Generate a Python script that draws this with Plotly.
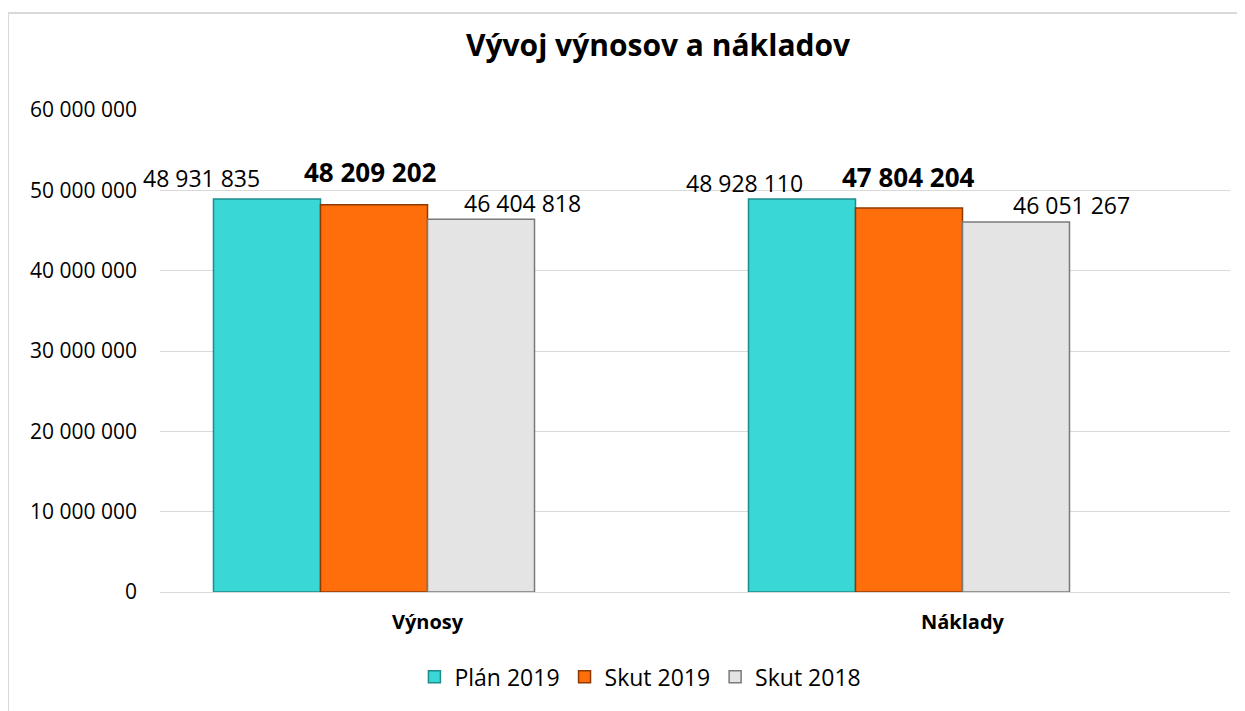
import plotly.graph_objects as go

categories = ["Výnosy", "Náklady"]
series_names = ["Plán 2019", "Skut 2019", "Skut 2018"]
plan_2019 = [48931835, 48928110]
skut_2019 = [48209202, 47804204]
skut_2018 = [46404818, 46051267]
y_ticks = [0, 10000000, 20000000, 30000000, 40000000, 50000000, 60000000]

series_values = [plan_2019, skut_2019, skut_2018]
colors = ["#39D8D6", "#FF6E0A", "#E4E4E4"]
edge_colors = ["#1E8C8A", "#8C3A00", "#7A7A7A"]
FONT = "Open Sans"

fig = go.Figure()
for name, vals, c, ec in zip(series_names, series_values, colors, edge_colors):
    fig.add_trace(go.Bar(
        x=categories, y=vals, name=name,
        marker=dict(color=c, line=dict(color=ec, width=1.5)),
        hoverinfo="x+y+name",
    ))
# empty placeholder slot (the original chart leaves a 4th slot empty)
fig.add_trace(go.Bar(x=categories, y=[None, None], showlegend=False, hoverinfo="skip"))

# data label styling (offsets in px from category centre / bar top)
label_xshift = [[-226, -57, 95], [-218, -54, 109]]
label_yshift = [[21, 33, 16], [16, 31, 17]]
for ci, cat in enumerate(categories):
    for si, vals in enumerate(series_values):
        bold = si == 1
        txt = f"{vals[ci]:,}".replace(",", " ")
        fig.add_annotation(
            x=cat, y=vals[ci], xref="x", yref="y",
            text=f"<b>{txt}</b>" if bold else txt,
            showarrow=False, xanchor="center", yanchor="middle",
            xshift=label_xshift[ci][si], yshift=label_yshift[ci][si],
            font=dict(family=FONT, size=26 if bold else 23, color="#000000"),
        )

fig.add_shape(type="rect", xref="paper", yref="paper",
              x0=-0.142, x1=1.012, y0=-0.25, y1=1.201,
              line=dict(color="#D9D9D9", width=2), layer="below")

fig.update_layout(
    width=1237, height=703,
    margin=dict(l=152, r=15, t=102, b=119, autoexpand=False),
    paper_bgcolor="white", plot_bgcolor="white",
    separators=", ",
    barmode="group", bargap=0.2, bargroupgap=0,
    title=dict(text="<b>Vývoj výnosov a nákladov</b>", x=0.5255, xref="container",
               xanchor="center", y=0.947, yref="container", yanchor="middle",
               font=dict(family=FONT, size=30, color="#000000")),
    font=dict(family=FONT, color="#000000"),
    legend=dict(orientation="h", x=0.449, xanchor="center", y=-0.176, yanchor="middle",
                font=dict(family=FONT, size=23), itemwidth=30, traceorder="normal"),
    showlegend=True,
)
fig.update_yaxes(range=[0, 60000000], tickvals=y_ticks, tickformat=",d", automargin=False,
                 showgrid=True, gridcolor="#D9D9D9", gridwidth=1,
                 zeroline=True, zerolinecolor="#D9D9D9", zerolinewidth=1,
                 showline=False, ticks="", ticklabelstandoff=22,
                 tickfont=dict(family=FONT, size=21, color="#000000"))
fig.update_xaxes(showline=False, ticks="", ticklabelstandoff=16, automargin=False,
                 type="category", range=[-0.5, 1.5],
                 tickvals=categories, ticktext=[f"<b>{c}</b>" for c in categories],
                 tickfont=dict(family=FONT, size=20, color="#000000"))

fig.write_html("out.html")
